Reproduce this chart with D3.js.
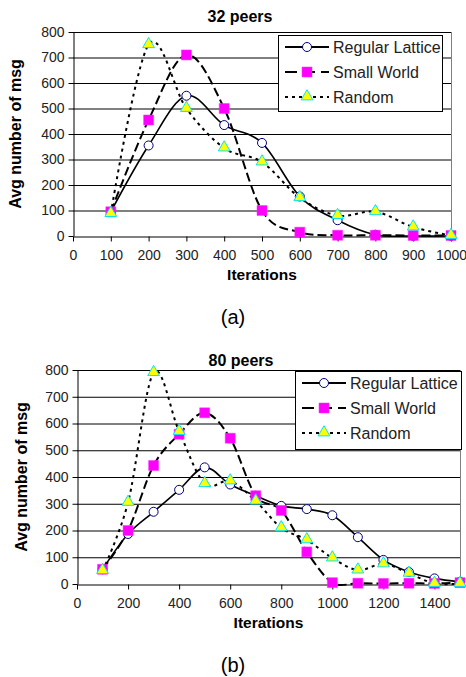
<!DOCTYPE html>
<html>
<head>
<meta charset="utf-8">
<script src="https://cdn.jsdelivr.net/npm/d3@7"></script>
<style>
  body { margin: 0; background: #fff; }
  svg text { font-family: "Liberation Sans", Arial, sans-serif; }
</style>
</head>
<body>
<div id="chart"></div>
<script>
// data
var seriesNames = ["Regular Lattice", "Small World", "Random"];
var yTicks = [0, 100, 200, 300, 400, 500, 600, 700, 800];

// (a) 32 peers
var iterA = [100, 200, 300, 400, 500, 600, 700, 800, 900, 1000];
var latticeA = [95, 355, 550, 435, 365, 155, 62, 5, 0, 0];
var smallA = [95, 455, 710, 500, 100, 15, 3, 3, 2, 2];
var randomA = [88, 750, 500, 345, 290, 150, 80, 95, 35, 2];
var xTicksA = [0, 100, 200, 300, 400, 500, 600, 700, 800, 900, 1000];

// (b) 80 peers
var iterB = [100, 200, 300, 400, 500, 600, 700, 800, 900, 1000, 1100, 1200, 1300, 1400, 1500];
var latticeB = [55, 187, 270, 352, 436, 372, 330, 292, 280, 257, 175, 90, 45, 21, 8];
var smallB = [55, 200, 443, 560, 640, 545, 330, 275, 120, 5, 3, 2, 3, 2, 5];
var randomB = [50, 305, 790, 570, 375, 385, 310, 210, 165, 97, 52, 75, 40, 2, 2];
var xTicksB = [0, 200, 400, 600, 800, 1000, 1200, 1400];

var width = 466, height = 677;
var svg = d3.select("#chart").append("svg")
  .attr("width", width)
  .attr("height", height);

// line styles per series
var dashes = [null, "9,4", "3,4"];

function drawChart(cfg) {
  var x = d3.scaleLinear().domain([0, cfg.xMax]).range([cfg.left, cfg.right]);
  var y = d3.scaleLinear().domain([0, 800]).range([cfg.bottom, cfg.top]);
  var g = svg.append("g");

  // gridlines
  g.append("g")
    .selectAll("line")
    .data(yTicks.slice(1))
    .enter().append("line")
    .attr("x1", cfg.left).attr("x2", cfg.right)
    .attr("y1", function (d) { return y(d) + 0.5; })
    .attr("y2", function (d) { return y(d) + 0.5; })
    .attr("stroke", "#000").attr("stroke-width", 1);

  // right border
  g.append("line")
    .attr("x1", cfg.right + 0.5).attr("x2", cfg.right + 0.5)
    .attr("y1", cfg.top).attr("y2", cfg.bottom)
    .attr("stroke", "#808080").attr("stroke-width", 1);

  // axes
  var yAxis = g.append("g")
    .attr("transform", "translate(" + (cfg.left + 0.5) + ",0)")
    .call(d3.axisLeft(y).tickValues(yTicks).tickSize(5).tickPadding(4).tickSizeOuter(0));
  var xAxis = g.append("g")
    .attr("transform", "translate(0," + (cfg.bottom + 0.5) + ")")
    .call(d3.axisBottom(x).tickValues(cfg.xTicks).tickFormat(d3.format("d"))
      .tickSize(5).tickPadding(9).tickSizeOuter(0));
  [yAxis, xAxis].forEach(function (a) {
    a.selectAll("text").attr("font-size", "14px").attr("fill", "#222")
      .attr("font-family", "Liberation Sans, Arial, sans-serif");
    a.selectAll("line, path").attr("stroke", "#000");
  });

  // lines
  var lineGen = d3.line()
    .x(function (d) { return x(d[0]); })
    .y(function (d) { return y(d[1]); })
    .curve(d3.curveCardinal.tension(0));

  var series = [cfg.lattice, cfg.small, cfg.random];
  series.forEach(function (vals, i) {
    var pts = cfg.iter.map(function (it, j) { return [it, vals[j]]; });
    g.append("path")
      .datum(pts)
      .attr("d", lineGen)
      .attr("fill", "none")
      .attr("stroke", "#000")
      .attr("stroke-width", i === 0 ? 1.6 : 2)
      .attr("stroke-dasharray", dashes[i]);
  });

  // markers
  series.forEach(function (vals, i) {
    var pts = cfg.iter.map(function (it, j) { return [it, vals[j]]; });
    drawMarkers(g, pts, i, x, y);
  });

  // legend
  var lg = g.append("g").attr("transform", "translate(" + cfg.legX + "," + cfg.legY + ")");
  lg.append("rect")
    .attr("x", 0.5).attr("y", 0.5)
    .attr("width", cfg.legW).attr("height", cfg.legH)
    .attr("fill", "#fff").attr("stroke", "#000");
  seriesNames.forEach(function (name, i) {
    var ry = 12 + i * 25;
    lg.append("line")
      .attr("x1", 7).attr("x2", 51)
      .attr("y1", ry).attr("y2", ry)
      .attr("stroke", "#000").attr("stroke-width", 2)
      .attr("stroke-dasharray", i === 1 ? "12,6" : dashes[i]);
    drawMarkers(lg, [[29, ry]], i, function (v) { return v; }, function (v) { return v; });
    lg.append("text")
      .attr("x", 55).attr("y", ry)
      .attr("dy", "0.36em")
      .attr("font-size", "16px")
      .attr("fill", "#222")
      .text(name);
  });

  // titles
  g.append("text")
    .attr("x", cfg.titleX).attr("y", cfg.titleY)
    .attr("text-anchor", "middle").attr("dy", "0.36em")
    .attr("font-size", "16px").attr("font-weight", "bold")
    .text(cfg.title);
  g.append("text")
    .attr("x", (cfg.left + cfg.right) / 2).attr("y", cfg.bottom + 38)
    .attr("text-anchor", "middle").attr("dy", "0.36em")
    .attr("font-size", "15.5px").attr("font-weight", "bold")
    .text("Iterations");
  g.append("text")
    .attr("transform", "translate(" + cfg.yLabX + "," + (cfg.top + cfg.bottom) / 2 + ") rotate(-90)")
    .attr("text-anchor", "middle").attr("dy", "0.36em")
    .attr("font-size", "16px").attr("font-weight", "bold")
    .text("Avg number of msg");
  g.append("text")
    .attr("x", 233).attr("y", cfg.capY)
    .attr("text-anchor", "middle").attr("dy", "0.36em")
    .attr("font-size", "20px")
    .attr("font-family", "Liberation Serif, Times New Roman, serif")
    .text(cfg.caption);
}

function drawMarkers(g, pts, i, x, y) {
  if (i === 0) {
    g.append("g").selectAll("circle")
      .data(pts).enter().append("circle")
      .attr("cx", function (d) { return x(d[0]); })
      .attr("cy", function (d) { return y(d[1]); })
      .attr("r", 4.5)
      .attr("fill", "#fff").attr("stroke", "#000080").attr("stroke-width", 1);
  } else if (i === 1) {
    g.append("g").selectAll("path")
      .data(pts).enter().append("path")
      .attr("d", d3.symbol(d3.symbolSquare, 100))
      .attr("transform", function (d) { return "translate(" + x(d[0]) + "," + y(d[1]) + ")"; })
      .attr("fill", "#ff00ff").attr("stroke", "#ff33ff").attr("stroke-width", 0.5);
  } else {
    g.append("g").selectAll("path")
      .data(pts).enter().append("path")
      .attr("d", d3.symbol(d3.symbolTriangle, 60))
      .attr("transform", function (d) { return "translate(" + x(d[0]) + "," + (y(d[1]) - 0.5) + ")"; })
      .attr("fill", "#ffff00").attr("stroke", "#00e5ff").attr("stroke-width", 1);
  }
}

drawChart({
  iter: iterA, lattice: latticeA, small: smallA, random: randomA,
  xMax: 1000, xTicks: xTicksA,
  left: 73, right: 451, top: 32, bottom: 236,
  legX: 278, legY: 35, legW: 164, legH: 76,
  title: "32 peers", titleX: 240, titleY: 16,
  yLabX: 15, capY: 317, caption: "(a)"
});

drawChart({
  iter: iterB, lattice: latticeB, small: smallB, random: randomB,
  xMax: 1500, xTicks: xTicksB,
  left: 77, right: 460, top: 370, bottom: 584,
  legX: 295, legY: 371, legW: 166, legH: 78,
  title: "80 peers", titleX: 241, titleY: 360,
  yLabX: 21, capY: 665, caption: "(b)"
});
</script>
</body>
</html>
